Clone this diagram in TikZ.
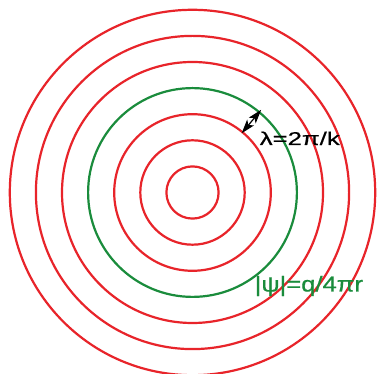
\documentclass[tikz,border=0pt]{standalone}
\usepackage{fontspec}
\setmainfont{Liberation Sans}
\newfontfamily\labelfont{Liberation Sans}[FakeBold=0.6]
\usetikzlibrary{arrows.meta}
\definecolor{wave}{HTML}{E8242A}
\definecolor{shell}{HTML}{1A8C3C}

\begin{document}
\begin{tikzpicture}[x=1pt,y=1pt,>=Stealth]
\useasboundingbox (0,0) rectangle (377,374);
\fill[white] (0,0) rectangle (377,374);
\coordinate (src) at (192.5,181.5);
\foreach \k in {1,2,3,5,6,7}
  \draw[wave,line width=2.2pt] (src) circle ({26.1*\k});
\draw[shell,line width=2.2pt] (src) circle (104.4);
\coordinate (crest) at ([shift={(50.3:77)}]src);
\coordinate (nextcrest) at ([shift={(50.3:107.5)}]src);
\draw[{Stealth[length=14pt,width=9pt,inset=3.5pt]}-{Stealth[length=14pt,width=9pt,inset=3.5pt]},line width=1.2pt] (crest) -- (nextcrest);
\node[anchor=base west,inner sep=0pt,xscale=1.39,font=\labelfont\fontsize{18.5}{20}\selectfont] (wavelen) at (259.5,229) {λ=2π/k};
\node[anchor=base west,inner sep=0pt,xscale=1.19,text=shell,font=\labelfont\fontsize{21.5}{24}\selectfont] (amp) at (254.5,82.5) {|ψ|=q/4πr};
\end{tikzpicture}
\end{document}
